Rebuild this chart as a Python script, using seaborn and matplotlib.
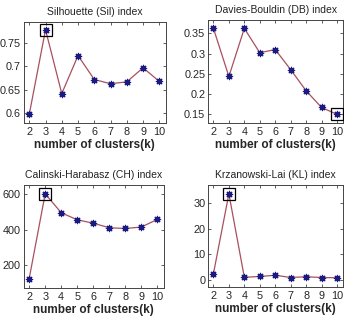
import numpy as np
import pandas as pd
import seaborn as sns
import matplotlib.pyplot as plt

sns.set_theme(style="white")
plt.rcParams['font.family'] = ['Liberation Sans', 'DejaVu Sans']
plt.rcParams['xtick.direction'] = 'in'
plt.rcParams['ytick.direction'] = 'in'

# number of clusters
k = [2, 3, 4, 5, 6, 7, 8, 9, 10]

# index values
sil = [0.598, 0.778, 0.642, 0.723, 0.672, 0.663, 0.667, 0.697, 0.668]
db = [0.3625, 0.243, 0.3625, 0.302, 0.31, 0.26, 0.2075, 0.166, 0.149]
ch = [125, 604, 497, 457, 438, 412, 408, 416, 459]
kl = [2.4, 33.6, 1.0, 1.3, 1.8, 0.9, 1.2, 0.9, 0.8]

titles = ['Silhouette (Sil) index', 'Davies-Bouldin (DB) index',
          'Calinski-Harabasz (CH) index', 'Krzanowski-Lai (KL) index']
best_k = [3, 10, 3, 3]
yticks = [[0.6, 0.65, 0.7, 0.75], [0.15, 0.2, 0.25, 0.3, 0.35],
          [200, 400, 600], [0, 10, 20, 30]]
yticklabels = [['0.6', '0.65', '0.7', '0.75'], ['0.15', '0.2', '0.25', '0.3', '0.35'],
               ['200', '400', '600'], ['0', '10', '20', '30']]
ylims = [(0.579, 0.795), (0.127, 0.383), (72, 654), (-2.8, 37.1)]

fig = plt.figure(figsize=(3.52, 3.25), dpi=100)
positions = [
    [0.067, 0.621, 0.404, 0.312],
    [0.591, 0.621, 0.384, 0.317],
    [0.067, 0.114, 0.398, 0.317],
    [0.591, 0.117, 0.384, 0.314],
]

for i, vals in enumerate([sil, db, ch, kl]):
    ax = fig.add_axes(positions[i])
    df = pd.DataFrame({'k': k, 'v': vals})
    sns.lineplot(data=df, x='k', y='v', ax=ax, color='#a8505e', linewidth=0.9)
    # matlab-like asterisk marker
    sns.scatterplot(data=df, x='k', y='v', ax=ax, marker=(8, 2, 0), s=20,
                    color='#1a1a80', linewidth=0.9, zorder=3)
    b = best_k[i]
    ax.plot([b], [vals[k.index(b)]], marker='s', markersize=8.5,
            markerfacecolor='none', markeredgecolor='black', markeredgewidth=0.9,
            linestyle='none', zorder=4)
    ax.set_xlim(1.65, 10.4)
    ax.set_ylim(*ylims[i])
    ax.set_xticks(k)
    ax.set_xticklabels([str(x) for x in k])
    ax.set_yticks(yticks[i])
    ax.set_yticklabels(yticklabels[i])
    ax.tick_params(axis='both', labelsize=7.8, length=2.5, width=0.6, pad=2,
                   top=True, right=True, bottom=True, left=True, color='#444444')
    ax.tick_params(axis='x', pad=3)
    for s in ax.spines.values():
        s.set_color('#444444')
        s.set_linewidth(0.7)
    ax.set_title(titles[i], fontsize=7.5, pad=5, color='#222222')
    ax.set_xlabel('number of clusters(k)', fontsize=8.5, fontweight='bold', labelpad=1)
    ax.set_ylabel('')

plt.savefig('out.png', dpi=100)
